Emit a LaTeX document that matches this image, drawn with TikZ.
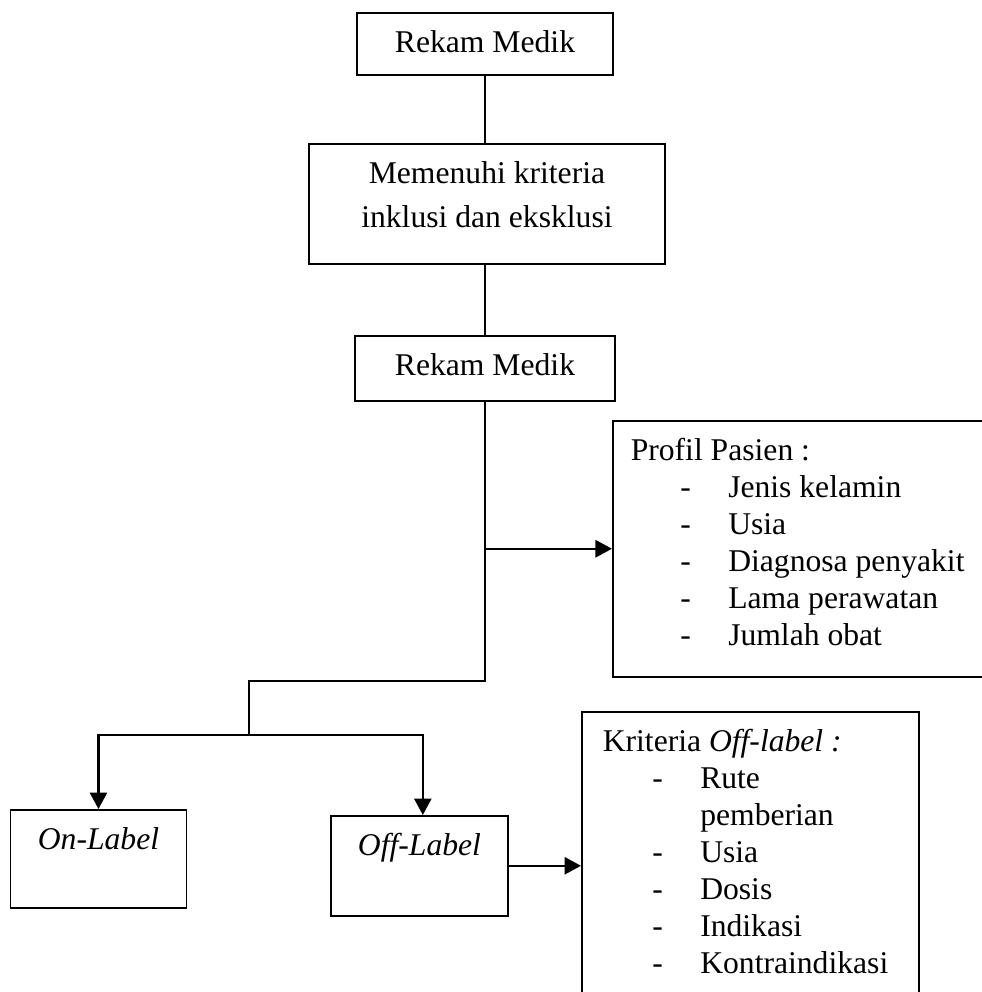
\documentclass[tikz,border=0pt]{standalone}
\usepackage{fontspec}
\setmainfont{Liberation Serif}
\usetikzlibrary{arrows.meta,positioning,calc}
\newcommand{\ListDash}[1]{\hspace*{0.66cm}\makebox[0.64cm][l]{-}#1}

\begin{document}
\begin{tikzpicture}[
  font=\fontsize{12}{14}\selectfont,
  box/.style={draw,line width=0.6pt,inner ysep=0pt,text height=0.533cm,anchor=north},
  link/.style={line width=0.8pt},
  arr/.style={line width=0.8pt,-{Triangle[width=0.23cm,length=0.22cm]}}]
\useasboundingbox (0,0) rectangle (13.093,13.227);
\clip (0,0) rectangle (13.093,13.227);
\node[box,minimum width=3.413cm,text depth=0.293cm] (rm1) at (6.467,13.067) {Rekam Medik};
\node[box,minimum width=4.747cm,text width=4.4cm,text depth=1.067cm,align=flush center,font=\fontsize{12}{16.5}\selectfont] (inkl) at (6.493,11.32) {Memenuhi kriteria\\inklusi dan eksklusi};
\node[box,minimum width=3.467cm,text depth=0.333cm] (rm2) at (6.467,8.76) {Rekam Medik};
\node[box,anchor=north west,text width=4.693cm,inner xsep=0.24cm,align=flush left,text depth=2.88cm] (profil) at (8.16,7.627) {Profil Pasien :\\
  \ListDash{Jenis kelamin}\\
  \ListDash{Usia}\\
  \ListDash{Diagnosa penyakit}\\
  \ListDash{Lama perawatan}\\
  \ListDash{Jumlah obat}};
\node[box,anchor=north west,text width=3.933cm,inner xsep=0.28cm,align=flush left,text depth=3.467cm] (offcrit) at (7.747,3.747) {Kriteria \textit{Off-label :}\\
  \ListDash{Rute}\\
  \hspace*{1.3cm}pemberian\\
  \ListDash{Usia}\\
  \ListDash{Dosis}\\
  \ListDash{Indikasi}\\
  \ListDash{Kontraindikasi}};
\node[box,minimum width=2.347cm,text depth=0.773cm,font=\fontsize{12}{14}\selectfont\itshape] (onlabel) at (1.313,2.44) {On-Label};
\node[box,minimum width=2.36cm,text depth=0.8cm,font=\fontsize{12}{14}\selectfont\itshape] (offlabel) at (5.593,2.36) {Off-Label};
\coordinate (fork) at (3.32,4.147);
\coordinate (branch) at (3.32,3.427);
% trunk
\draw[link] (rm1.south) -- (rm1.south |- inkl.north);
\draw[link] (rm2.north |- inkl.south) -- (rm2.north);
\draw[link] (rm2.south) -- (rm2.south |- fork) -- (fork) -- (branch);
\draw[arr] (rm2.south |- profil.west) -- (profil.west);
% branches
\draw[arr] (branch) -| (onlabel.north);
\draw[arr] (branch) -| ([xshift=0.045cm]offlabel.north);
\draw[arr] (offlabel.east) -- (offlabel.east -| offcrit.west);
\end{tikzpicture}
\end{document}
